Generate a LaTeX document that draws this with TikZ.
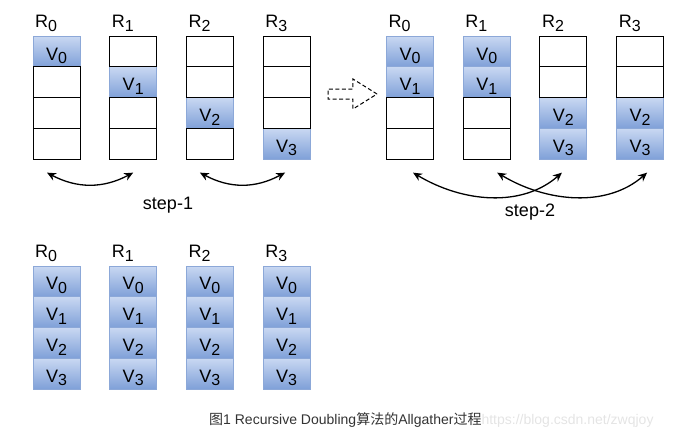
\documentclass[tikz,border=0pt]{standalone}
\usepackage{fontspec}
\setmainfont{Liberation Sans}
\newfontfamily\cjk{Noto Sans CJK SC}
\usepackage{xcolor}
\usepackage{tikz}
\usetikzlibrary{arrows.meta,shapes.arrows,calc}
\definecolor{celltop}{HTML}{C9D8F2}
\definecolor{cellbot}{HTML}{7FA0D8}
\definecolor{celledge}{HTML}{8CA8D8}
\definecolor{capgray}{HTML}{333333}
\definecolor{markgray}{HTML}{E4E4E4}
\newcommand{\idx}[2]{#1\raisebox{-3.7pt}{\fontsize{16}{16}\selectfont #2}}

\begin{document}
\begin{tikzpicture}[
    x=1pt, y=-1pt,
    cell/.style={rectangle, minimum width=47pt, minimum height=30.75pt, inner sep=0pt, text height=21pt, text depth=4pt, font=\fontsize{18}{18}\selectfont},
    empty/.style={cell, draw=black, line width=1pt},
    full/.style={cell, draw=celledge, line width=1pt, top color=celltop, bottom color=cellbot},
    rank/.style={anchor=base west, inner sep=0pt, font=\fontsize{18}{18}\selectfont},
    swap/.style={{Stealth[length=9pt,width=8pt]}-{Stealth[length=9pt,width=8pt]}, line width=1.3pt},
    steplab/.style={anchor=base, inner sep=0pt, font=\fontsize{18}{18}\selectfont},
]
    \useasboundingbox (0,0) rectangle (683,437);

    % Start: every rank holds its own block
    \foreach \c in {0,...,3}{
        \node[full] (a\c\c) at ({56.5+76.7*\c},{51.5+30.75*\c}) {\idx{V}{\c}};
        \foreach \r in {0,...,3}{
            \ifnum\r=\c\else
                \node[empty] (a\c\r) at ({56.5+76.7*\c},{51.5+30.75*\r}) {};
            \fi
        }
        \node[rank] (ra\c) at ([xshift=2.5pt,yshift=8pt]a\c0.north west) {\idx{R}{\c}};
    }

    % After step-1
    \foreach \c in {0,...,3}{
        \foreach \r in {0,...,3}{
            \pgfmathtruncatemacro\own{(\c<2)==(\r<2)}
            \ifnum\own=1
                \node[full] (b\c\r) at ({410+76.7*\c},{51.5+30.75*\r}) {\idx{V}{\r}};
            \fi
        }
    }
    \foreach \c in {0,...,3}{
        \foreach \r in {0,...,3}{
            \pgfmathtruncatemacro\own{(\c<2)==(\r<2)}
            \ifnum\own=0
                \node[empty] (b\c\r) at ({410+76.7*\c},{51.5+30.75*\r}) {};
            \fi
        }
        \node[rank] (rb\c) at ([xshift=2.5pt,yshift=8pt]b\c0.north west) {\idx{R}{\c}};
    }

    % After step-2: all blocks everywhere
    \foreach \c in {0,...,3}{
        \foreach \r in {0,...,3}
            \node[full] (c\c\r) at ({56.5+76.7*\c},{281.4+30.75*\r}) {\idx{V}{\r}};
        \node[rank] (rc\c) at ([xshift=2.5pt,yshift=8pt]c\c0.north west) {\idx{R}{\c}};
    }

    % Transition arrow
    \node[single arrow, draw, dashed, dash pattern=on 4pt off 2.5pt, line width=1pt,
          minimum height=49pt, single arrow head extend=10pt, single arrow tip angle=64,
          inner xsep=0pt, inner ysep=4.5pt] (next) at (348.5,94) {};

    % Exchanges
    \draw[swap] ($(a03.south)+(-9.5,13)$) .. controls +(30,16) and +(-30,16) .. ($(a13.south)+(0,13)$);
    \draw[swap] ($(a23.south)+(-10,13)$) .. controls +(30,16) and +(-30,16) .. ($(a33.south)+(-1.5,13)$);
    \draw[swap] ($(b03.south)+(3,13)$) .. controls +(50,30) and +(-40,35) .. ($(b23.south)+(-1.5,13)$);
    \draw[swap] ($(b13.south)+(10.5,13)$) .. controls +(50,30) and +(-40,35) .. ($(b33.south)+(7,13)$);

    % Labels
    \node[steplab] (s1) at (168,209) {step-1};
    \node[steplab] (s2) at (530,216) {step-2};
    \node[anchor=base west, inner sep=0pt, font=\fontsize{14}{14}\selectfont, text=capgray] (cap) at (209,424)
        {{\cjk 图}1 Recursive Doubling{\cjk 算法的}Allgather{\cjk 过程}\textcolor{markgray}{https://blog.csdn.net/zwqjoy}};
\end{tikzpicture}
\end{document}
